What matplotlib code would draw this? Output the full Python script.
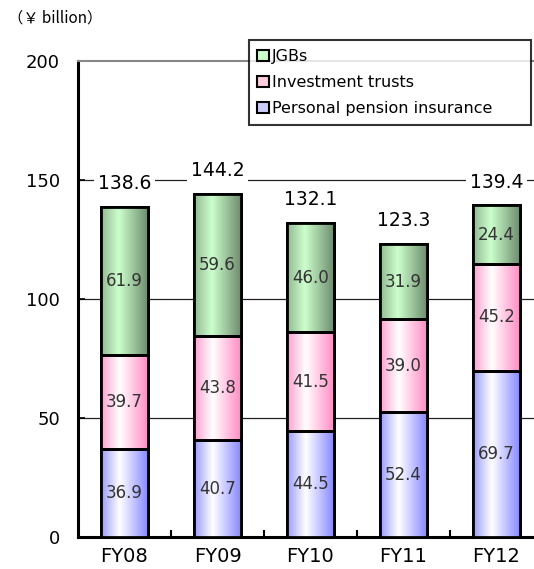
import numpy as np
import matplotlib
matplotlib.use("Agg")
import matplotlib.pyplot as plt
from matplotlib.colors import LinearSegmentedColormap
from matplotlib.patches import Patch

plt.rcParams['font.family'] = ['DejaVu Sans', 'Noto Sans CJK JP']

# Data (¥ billion)
years = ["FY08", "FY09", "FY10", "FY11", "FY12"]
pension = [36.9, 40.7, 44.5, 52.4, 69.7]
trusts = [39.7, 43.8, 41.5, 39.0, 45.2]
jgbs = [61.9, 59.6, 46.0, 31.9, 24.4]
totals = [138.6, 144.2, 132.1, 123.3, 139.4]
yticks = [0, 50, 100, 150, 200]

W, H = 534, 569
fig = plt.figure(figsize=(W / 100, H / 100), dpi=100)
ax = fig.add_axes([78 / W, 32 / H, 465 / W, 476 / H])

cmaps = {
    "pension": LinearSegmentedColormap.from_list(
        "pen", [(0, "#9a9aff"), (0.4, "#ffffff"), (1, "#8888ff")]),
    "trusts": LinearSegmentedColormap.from_list(
        "tru", [(0, "#ff9fcf"), (0.4, "#ffffff"), (1, "#ff8cc4")]),
    "jgbs": LinearSegmentedColormap.from_list(
        "jgb", [(0, "#94b894"), (0.38, "#ccffcc"), (1, "#6e8c6e")]),
}
base = {"pension": "#ccccff", "trusts": "#ffcce6", "jgbs": "#bfe8bf"}

x = np.arange(len(years))
width = 0.5
grad = np.linspace(0, 1, 256)[np.newaxis, :]

bottom = np.zeros(len(years))
for key, vals in [("pension", pension), ("trusts", trusts), ("jgbs", jgbs)]:
    vals = np.asarray(vals)
    bars = ax.bar(x, vals, width, bottom=bottom, color=base[key],
                  edgecolor="black", linewidth=2, zorder=3)
    for bar, v in zip(bars, vals):
        bx, by = bar.get_x(), bar.get_y()
        bw, bh = bar.get_width(), bar.get_height()
        im = ax.imshow(grad, extent=(bx, bx + bw, by, by + bh), aspect="auto",
                       cmap=cmaps[key], interpolation="bicubic", zorder=3.5)
        im.set_clip_path(bar)
        # redraw outline on top of the gradient
        ax.bar(bx + bw / 2, bh, bw, bottom=by, fill=False,
               edgecolor="black", linewidth=2, zorder=4)
        ax.text(bx + bw / 2, by + bh / 2, f"{v:.1f}", ha="center", va="center",
                fontsize=12, color="#333333", zorder=5)
    bottom = bottom + vals

for xi, top, t in zip(x, bottom, totals):
    ax.annotate(f"{t:.1f}", (xi, top), xytext=(0, 10), textcoords="offset points",
                ha="center", va="bottom", fontsize=13.5, color="black", zorder=6,
                bbox=dict(boxstyle="square,pad=0.2", fc="white", ec="none"))

ax.set_xlim(-0.5, len(years) - 0.5)
ax.set_ylim(0, 200)
ax.set_yticks(yticks)
ax.set_yticklabels([str(v) for v in yticks])
ax.set_xticks(x)
ax.set_xticklabels(years)
ax.set_xticks(x[:-1] + 0.5, minor=True)

for yv in yticks[1:-1]:
    ax.axhline(yv, color="#222222", linewidth=0.9, zorder=1)

ax.tick_params(axis="y", direction="in", length=5, width=1.2, pad=13,
               labelsize=13, colors="black")
ax.tick_params(axis="x", which="major", length=0, pad=7, labelsize=14)
ax.tick_params(axis="x", which="minor", direction="in", length=5, width=1.5)

for side in ["left", "bottom"]:
    ax.spines[side].set_linewidth(2.2)
    ax.spines[side].set_color("black")
ax.spines["top"].set_color("#888888")
ax.spines["top"].set_linewidth(1.5)
ax.spines["right"].set_visible(False)

handles = [
    Patch(facecolor="#ccffcc", edgecolor="black", linewidth=1.5, label="JGBs"),
    Patch(facecolor="#ffccdd", edgecolor="black", linewidth=1.5, label="Investment trusts"),
    Patch(facecolor="#ccccff", edgecolor="black", linewidth=1.5,
          label="Personal pension insurance"),
]
leg = ax.legend(handles=handles, loc="upper left",
                bbox_to_anchor=(0.367, 1.044, 0.608, 0.0), mode="expand",
                fontsize=11.5, frameon=True, fancybox=False, edgecolor="black",
                handlelength=0.7, handleheight=0.7, handletextpad=0.2,
                labelspacing=0.7, borderpad=0.55, borderaxespad=0)
leg.get_frame().set_linewidth(1.5)
leg.set_zorder(10)

fig.text(8 / W, 1 - 18 / H, "（￥ billion）", fontsize=11, va="center", ha="left",
         family=["Noto Sans CJK JP", "DejaVu Sans"])

fig.savefig("out.png", dpi=100)
